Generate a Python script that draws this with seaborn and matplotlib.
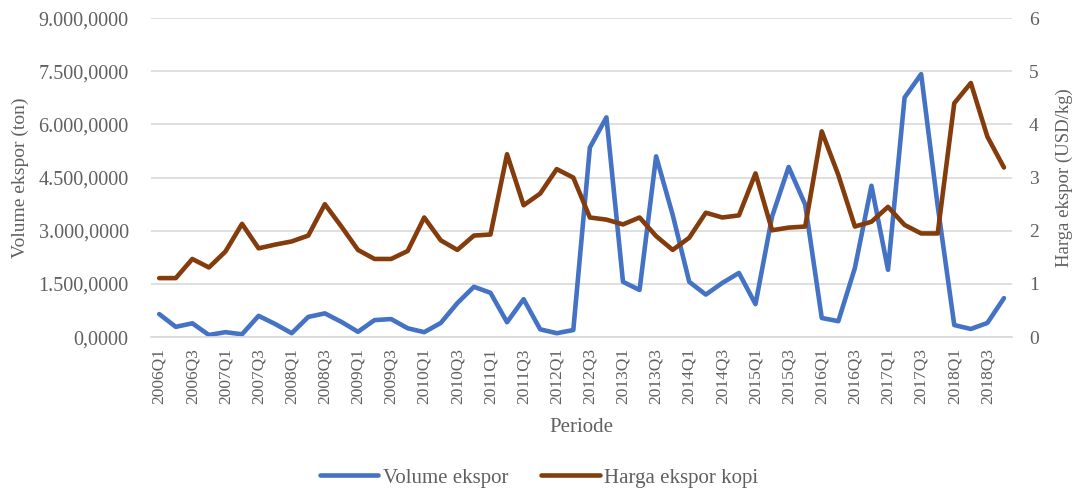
import matplotlib
matplotlib.use("Agg")
import matplotlib.pyplot as plt
import seaborn as sns
import numpy as np
import pandas as pd
from matplotlib.ticker import FuncFormatter, FixedLocator

# ---- data ----
years = list(range(2006, 2019))
periods = [f"{y}Q{q}" for y in years for q in range(1, 5)]

volume = [650, 290, 390, 60, 140, 80, 600, 370, 110, 570, 670, 430,
          150, 480, 510, 250, 140, 400, 960, 1420, 1250, 420, 1070, 220,
          110, 200, 5350, 6200, 1560, 1330, 5100, 3450, 1560, 1200, 1530, 1810,
          930, 3400, 4800, 3740, 540, 450, 1950, 4270, 1900, 6760, 7420, 3700,
          340, 230, 400, 1100]

price = [1.11, 1.11, 1.47, 1.31, 1.61, 2.13, 1.67, 1.74, 1.80, 1.91, 2.50, 2.08,
         1.64, 1.47, 1.47, 1.62, 2.25, 1.82, 1.64, 1.91, 1.93, 3.44, 2.48, 2.70,
         3.16, 3.00, 2.25, 2.21, 2.12, 2.25, 1.90, 1.64, 1.87, 2.34, 2.25, 2.29,
         3.08, 2.01, 2.06, 2.08, 3.87, 3.05, 2.08, 2.17, 2.45, 2.11, 1.95, 1.95,
         4.40, 4.78, 3.77, 3.19]

left_ticks = [0, 1500, 3000, 4500, 6000, 7500, 9000]
right_ticks = [0, 1, 2, 3, 4, 5, 6]

series_names = ["Volume ekspor", "Harga ekspor kopi"]
xlabel = "Periode"
ylabel_left = "Volume ekspor (ton)"
ylabel_right = "Harga ekspor (USD/kg)"

# ---- style ----
sns.set_theme(style="white")
plt.rcParams["font.family"] = ["Liberation Serif", "DejaVu Serif"]
TXT = "#606060"
BLUE = "#4472C4"
BROWN = "#843C0C"
GRID = "#D9D9D9"

df = pd.DataFrame({"idx": np.arange(len(periods)), "periode": periods,
                   "volume": volume, "harga": price})

fig = plt.figure(figsize=(10.78, 4.90), dpi=100)
ax = fig.add_axes([0.140, 0.312, 0.799, 0.651])
ax2 = ax.twinx()

sns.lineplot(data=df, x="idx", y="volume", ax=ax, color=BLUE, linewidth=3.3,
             label=series_names[0], legend=False)
sns.lineplot(data=df, x="idx", y="harga", ax=ax2, color=BROWN, linewidth=3.3,
             label=series_names[1], legend=False)

ax.set_xlim(-0.5, len(periods) - 0.5)
ax.set_ylim(0, 9000)
ax2.set_ylim(0, 6)
ax.yaxis.set_major_locator(FixedLocator(left_ticks))
ax2.yaxis.set_major_locator(FixedLocator(right_ticks))

def idn(v, pos):
    s = f"{v:,.4f}"
    return s.replace(",", "X").replace(".", ",").replace("X", ".")

ax.yaxis.set_major_formatter(FuncFormatter(idn))
ax2.yaxis.set_major_formatter(FuncFormatter(lambda v, p: f"{int(v)}"))

tick_pos = list(range(0, len(periods), 2))
ax.set_xticks(tick_pos)
ax.set_xticklabels([periods[i] for i in tick_pos], rotation=90)

ax.grid(axis="y", color=GRID, linewidth=1.2)
ax.set_axisbelow(True)
for a in (ax, ax2):
    for sp in a.spines.values():
        sp.set_visible(False)
ax.spines["bottom"].set_visible(True)
ax.spines["bottom"].set_color(GRID)
ax.spines["bottom"].set_linewidth(1.2)

ax.tick_params(axis="x", length=0, pad=8, labelsize=12.5, labelcolor=TXT)
ax.tick_params(axis="y", length=0, pad=16, labelsize=14.5, labelcolor=TXT)
ax2.tick_params(axis="y", length=0, pad=12, labelsize=14, labelcolor=TXT)

ax.set_xlabel(xlabel, fontsize=15, color=TXT, labelpad=10)
ax.set_ylabel(ylabel_left, fontsize=14, color=TXT, labelpad=7)
ax2.set_ylabel(ylabel_right, fontsize=13.5, color=TXT, labelpad=12)

h1, l1 = ax.get_legend_handles_labels()
h2, l2 = ax2.get_legend_handles_labels()
fig.legend(h1 + h2, l1 + l2, loc="center", bbox_to_anchor=(0.5, 0.025),
           ncol=2, frameon=False, fontsize=15, handlelength=2.8,
           handletextpad=0.2, columnspacing=1.6, labelcolor=TXT)

fig.savefig("out.png", dpi=100)
